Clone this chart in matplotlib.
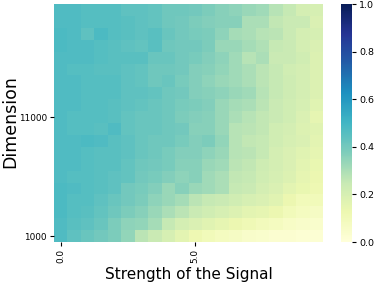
import numpy as np
import matplotlib
matplotlib.use("Agg")
import matplotlib.pyplot as plt

# Signal strengths (columns) and dimensions (rows, bottom to top)
strengths = [0.0, 0.5, 1.0, 1.5, 2.0, 2.5, 3.0, 3.5, 4.0, 4.5,
             5.0, 5.5, 6.0, 6.5, 7.0, 7.5, 8.0, 8.5, 9.0, 9.5]
dimensions = [1000, 2000, 3000, 4000, 5000, 6000, 7000, 8000, 9000, 10000,
              11000, 12000, 13000, 14000, 15000, 16000, 17000, 18000, 19000, 20000]

# values listed from top row (20000) to bottom row (1000)
values_top_down = [
    [0.47, 0.47, 0.46, 0.46, 0.46, 0.44, 0.44, 0.43, 0.41, 0.41, 0.40, 0.38, 0.36, 0.35, 0.33, 0.32, 0.28, 0.25, 0.21, 0.20],
    [0.47, 0.47, 0.46, 0.46, 0.46, 0.45, 0.44, 0.43, 0.41, 0.40, 0.38, 0.37, 0.36, 0.36, 0.30, 0.30, 0.26, 0.24, 0.24, 0.19],
    [0.48, 0.47, 0.44, 0.48, 0.46, 0.45, 0.44, 0.45, 0.42, 0.40, 0.39, 0.38, 0.35, 0.31, 0.30, 0.28, 0.27, 0.24, 0.21, 0.20],
    [0.48, 0.47, 0.47, 0.46, 0.45, 0.44, 0.43, 0.45, 0.41, 0.40, 0.40, 0.38, 0.33, 0.33, 0.31, 0.29, 0.25, 0.24, 0.21, 0.19],
    [0.47, 0.47, 0.47, 0.46, 0.45, 0.45, 0.45, 0.42, 0.42, 0.40, 0.39, 0.37, 0.35, 0.32, 0.28, 0.30, 0.24, 0.24, 0.22, 0.18],
    [0.47, 0.46, 0.46, 0.45, 0.45, 0.44, 0.43, 0.41, 0.41, 0.40, 0.37, 0.36, 0.34, 0.32, 0.30, 0.27, 0.25, 0.22, 0.21, 0.18],
    [0.47, 0.47, 0.46, 0.46, 0.46, 0.44, 0.43, 0.41, 0.42, 0.39, 0.37, 0.35, 0.33, 0.32, 0.30, 0.27, 0.25, 0.23, 0.21, 0.18],
    [0.47, 0.47, 0.46, 0.46, 0.46, 0.44, 0.44, 0.43, 0.41, 0.40, 0.37, 0.36, 0.35, 0.33, 0.32, 0.28, 0.25, 0.23, 0.21, 0.18],
    [0.47, 0.47, 0.46, 0.46, 0.45, 0.44, 0.43, 0.42, 0.41, 0.39, 0.38, 0.37, 0.33, 0.31, 0.30, 0.27, 0.24, 0.22, 0.20, 0.17],
    [0.47, 0.46, 0.46, 0.46, 0.45, 0.43, 0.42, 0.42, 0.41, 0.38, 0.37, 0.36, 0.33, 0.30, 0.28, 0.26, 0.24, 0.22, 0.19, 0.15],
    [0.47, 0.46, 0.46, 0.45, 0.47, 0.43, 0.42, 0.42, 0.41, 0.40, 0.36, 0.36, 0.33, 0.28, 0.27, 0.26, 0.22, 0.21, 0.18, 0.17],
    [0.47, 0.47, 0.48, 0.47, 0.45, 0.44, 0.42, 0.41, 0.41, 0.39, 0.37, 0.38, 0.34, 0.28, 0.26, 0.25, 0.22, 0.20, 0.19, 0.16],
    [0.47, 0.47, 0.46, 0.45, 0.45, 0.44, 0.42, 0.41, 0.39, 0.37, 0.37, 0.35, 0.33, 0.28, 0.27, 0.25, 0.21, 0.19, 0.17, 0.15],
    [0.47, 0.47, 0.46, 0.45, 0.45, 0.43, 0.41, 0.40, 0.39, 0.36, 0.36, 0.33, 0.32, 0.27, 0.26, 0.23, 0.21, 0.19, 0.16, 0.14],
    [0.47, 0.46, 0.46, 0.45, 0.44, 0.43, 0.40, 0.39, 0.37, 0.35, 0.36, 0.32, 0.30, 0.26, 0.25, 0.22, 0.20, 0.18, 0.15, 0.13],
    [0.48, 0.47, 0.46, 0.45, 0.44, 0.40, 0.39, 0.37, 0.33, 0.36, 0.33, 0.32, 0.30, 0.25, 0.24, 0.21, 0.19, 0.16, 0.14, 0.12],
    [0.48, 0.46, 0.46, 0.44, 0.42, 0.40, 0.38, 0.35, 0.33, 0.31, 0.27, 0.25, 0.24, 0.22, 0.20, 0.19, 0.17, 0.13, 0.10, 0.10],
    [0.48, 0.46, 0.45, 0.43, 0.41, 0.38, 0.36, 0.33, 0.30, 0.27, 0.24, 0.22, 0.20, 0.18, 0.16, 0.15, 0.13, 0.10, 0.08, 0.07],
    [0.47, 0.45, 0.44, 0.42, 0.38, 0.35, 0.34, 0.31, 0.25, 0.21, 0.19, 0.17, 0.15, 0.13, 0.11, 0.09, 0.08, 0.06, 0.05, 0.04],
    [0.47, 0.44, 0.42, 0.40, 0.38, 0.34, 0.27, 0.24, 0.20, 0.16, 0.12, 0.10, 0.08, 0.07, 0.05, 0.04, 0.03, 0.03, 0.02, 0.02],
]

xtick_labels = ["0.0", "5.0"]
ytick_labels = ["1000", "11000"]

data = np.array(values_top_down[::-1])  # row 0 = 1000 (bottom)

fig = plt.figure(figsize=(3.74, 2.82), dpi=100)
W, H = 374, 282
ax = fig.add_axes([54 / W, 1 - 242 / H, (323 - 54) / W, (242 - 4) / H])
cax = fig.add_axes([341 / W, 1 - 242 / H, (352 - 341) / W, (242 - 4) / H])

nx, ny = len(strengths), len(dimensions)
mesh = ax.pcolormesh(np.arange(nx + 1), np.arange(ny + 1), data,
                     cmap="YlGnBu", vmin=0, vmax=1, shading="flat")
ax.set_xlim(0, nx)
ax.set_ylim(0, ny)
for s in ax.spines.values():
    s.set_visible(False)

xt = [strengths.index(float(t)) + 0.5 for t in xtick_labels]
yt = [dimensions.index(int(t)) + 0.5 for t in ytick_labels]
ax.set_xticks(xt)
ax.set_xticklabels(xtick_labels, rotation=90, fontsize=6.4)
ax.set_yticks(yt)
ax.set_yticklabels(ytick_labels, fontsize=6.4)
ax.tick_params(length=3, width=0.8, pad=2)

ax.set_xlabel("Strength of the Signal", fontsize=11, labelpad=3)
fig.text(1 / W, 1 - 122 / H, "Dimension", rotation=90, ha="left", va="center",
         fontsize=12.5)

cb = fig.colorbar(mesh, cax=cax)
cb.outline.set_visible(False)
cb.set_ticks([0.0, 0.2, 0.4, 0.6, 0.8, 1.0])
cb.ax.tick_params(labelsize=6.8, length=3, width=0.8, pad=2)

fig.savefig("out.png", dpi=100)
